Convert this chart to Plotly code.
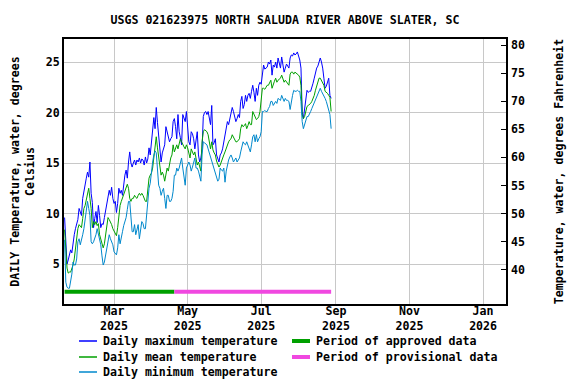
import pandas
import plotly.graph_objects as go

# daily values, degrees Celsius, first day 2025-01-19
first_day = "2025-01-19"

daily_max = [
    9.6, 7.0, 5.0, 5.4, 5.9, 6.4, 6.1, 7.2, 7.9, 8.5,
    8.9, 9.4, 10.5, 10.0, 9.8, 11.5, 12.3, 12.8, 13.5, 14.1,
    13.6, 15.1, 12.0, 11.1, 8.6, 9.5, 10.2, 9.1, 10.8, 9.8,
    8.6, 9.0, 8.9, 9.6, 10.3, 10.9, 11.5, 12.3, 11.8, 12.6,
    11.5, 11.0, 11.2, 10.1, 11.0, 12.5, 12.0, 12.3, 11.8, 13.0,
    13.8, 14.3, 13.5, 15.1, 16.1, 15.0, 14.6, 15.0, 15.3, 14.8,
    15.3, 15.1, 15.5, 15.0, 15.4, 15.3, 14.8, 15.6, 15.0, 15.4,
    16.5, 15.8, 17.1, 17.8, 19.5, 18.4, 20.5, 19.0, 17.5, 16.5,
    15.1, 16.0, 16.4, 16.8, 18.6, 18.1, 17.8, 17.1, 17.4, 17.6,
    19.1, 19.4, 18.6, 17.4, 19.8, 18.1, 17.5, 16.8, 19.8, 19.3,
    19.1, 20.1, 18.0, 17.1, 16.8, 18.1, 17.9, 17.4, 16.4, 17.2,
    18.1, 15.8, 15.1, 15.5, 16.4, 19.6, 20.0, 20.1, 19.8, 20.1,
    19.5, 18.8, 20.7, 16.8, 17.0, 17.4, 15.8, 15.4, 15.1, 15.8,
    16.0, 16.4, 17.1, 18.1, 18.4, 19.1, 18.8, 19.4, 20.0, 20.5,
    20.1, 19.6, 19.1, 19.4, 19.8, 19.5, 21.1, 21.6, 20.4, 20.8,
    21.7, 21.1, 21.7, 21.9, 21.4, 22.1, 22.7, 22.0, 21.1, 22.4,
    21.7, 22.7, 23.0, 22.8, 24.0, 24.7, 24.3, 24.4, 24.5, 25.0,
    24.8, 25.2, 23.7, 24.7, 24.5, 25.0, 24.4, 25.4, 24.9, 24.4,
    25.5, 24.6, 24.0, 24.4, 24.8, 24.6, 24.4, 25.4, 25.7, 25.6,
    25.9, 25.7, 25.8, 26.0, 25.6, 25.2, 24.4, 20.1, 19.4, 20.4,
    21.7, 22.2, 22.0, 22.1, 22.1, 22.4, 22.9, 23.4, 24.0, 24.4,
    24.6, 25.0, 25.4, 25.0, 24.4, 23.4, 22.4, 22.6, 23.0, 23.4,
    21.7, 21.4,
]

daily_mean = [
    8.4, 6.0, 4.6, 4.1, 4.2, 4.2, 4.5, 4.9, 5.5, 6.6,
    7.5, 8.5, 8.9, 8.7, 8.6, 9.5, 10.5, 10.8, 11.5, 12.2,
    12.5, 11.5, 10.5, 8.6, 9.2, 8.9, 9.2, 8.8, 9.0, 7.9,
    7.5, 7.0, 6.6, 7.0, 7.9, 8.6, 9.6, 9.4, 9.2, 8.9,
    8.5, 8.2, 7.9, 7.8, 8.6, 9.8, 10.8, 11.2, 11.5, 11.8,
    12.2, 12.5, 12.9, 12.5, 11.5, 11.2, 11.5, 11.5, 11.8, 11.6,
    11.5, 11.8, 12.0, 11.8, 12.0, 11.8, 11.5, 11.2, 11.2, 12.5,
    13.5, 13.8, 14.0, 14.5, 15.5, 16.8, 17.6, 16.5, 15.5, 14.8,
    13.8, 14.1, 13.8, 13.2, 14.0, 14.5, 14.2, 15.1, 15.5, 15.8,
    16.8, 16.1, 16.6, 16.8, 16.4, 16.9, 17.4, 17.1, 16.8, 16.6,
    16.4, 16.8, 16.5, 16.1, 15.5, 16.4, 16.0, 15.8, 16.1, 15.5,
    14.8, 15.1, 14.6, 14.2, 17.1, 18.1, 18.3, 18.2, 18.1, 17.8,
    17.2, 16.4, 17.1, 16.3, 16.0, 15.8, 15.2, 14.8, 14.6, 14.8,
    15.2, 15.5, 15.8, 16.1, 16.5, 16.8, 17.1, 17.3, 17.4, 17.8,
    17.6, 17.4, 17.1, 17.1, 17.3, 17.4, 18.4, 18.8, 18.6, 18.7,
    18.9, 18.4, 18.7, 19.1, 18.8, 18.8, 20.1, 19.8, 19.4, 19.3,
    19.4, 19.6, 20.1, 21.1, 22.4, 22.4, 22.3, 22.5, 22.7, 22.7,
    22.9, 23.2, 22.4, 22.9, 23.1, 23.4, 23.0, 23.2, 23.3, 23.4,
    23.7, 23.4, 23.0, 23.2, 23.0, 22.9, 22.7, 23.8, 24.0, 24.0,
    23.8, 24.0, 23.9, 23.8, 23.7, 23.5, 22.7, 19.8, 19.4, 19.6,
    20.1, 20.6, 20.7, 20.8, 20.9, 21.1, 21.4, 21.7, 22.2, 22.7,
    23.0, 23.4, 23.4, 23.2, 23.0, 22.7, 22.1, 22.0, 21.9, 21.7,
    21.5, 20.1,
]

daily_min = [
    7.4, 3.2, 2.7, 2.6, 2.6, 3.2, 4.0, 5.2, 4.9, 4.9,
    5.5, 7.2, 7.5, 6.9, 7.3, 7.9, 8.5, 9.5, 10.5, 11.2,
    10.5, 9.8, 7.2, 7.0, 7.2, 7.5, 7.9, 8.5, 8.0, 7.5,
    6.9, 5.8, 4.9, 5.2, 5.9, 6.8, 7.5, 7.9, 7.5, 7.2,
    6.9, 6.2, 6.0, 5.9, 6.6, 7.9, 7.0, 7.8, 8.2, 8.8,
    9.2, 9.6, 10.4, 11.2, 11.2, 9.5, 8.2, 8.2, 8.9, 7.9,
    8.5, 8.9, 7.5, 8.2, 9.2, 9.0, 8.5, 8.5, 9.8, 11.8,
    12.5, 13.0, 14.5, 15.1, 15.8, 16.2, 16.0, 14.5, 12.8, 12.5,
    11.8, 12.2, 12.5, 11.5, 10.5, 11.8, 11.8, 11.2, 11.2, 11.5,
    12.2, 13.8, 13.8, 14.5, 14.2, 14.5, 15.1, 15.5, 14.5, 13.6,
    12.8, 14.5, 14.8, 15.1, 14.8, 14.2, 14.6, 15.1, 15.5, 14.5,
    14.5, 14.2, 13.5, 13.2, 15.8, 17.1, 17.0, 16.9, 16.8, 16.4,
    16.0, 15.5, 15.1, 14.6, 14.2, 13.8, 13.5, 13.2, 13.4, 14.5,
    14.3, 14.2, 14.5, 13.1, 14.2, 14.8, 15.3, 15.6, 15.8, 15.5,
    15.1, 15.3, 15.5, 15.1, 15.3, 15.5, 16.1, 16.8, 17.1, 16.9,
    16.8, 17.1, 16.7, 16.4, 16.1, 16.8, 17.6, 17.8, 17.1, 17.8,
    17.1, 17.4, 17.6, 18.1, 20.1, 20.1, 20.2, 20.1, 20.1, 20.4,
    20.6, 21.1, 21.1, 20.7, 20.9, 21.1, 20.9, 21.4, 21.3, 21.2,
    21.7, 21.4, 21.1, 21.4, 21.2, 21.2, 21.1, 20.3, 21.2, 21.7,
    22.2, 22.1, 22.1, 22.2, 22.1, 22.1, 21.1, 19.1, 18.4, 18.8,
    19.1, 19.6, 19.6, 19.8, 20.1, 20.4, 20.7, 20.9, 21.2, 21.6,
    21.9, 22.1, 22.4, 22.1, 21.9, 21.7, 21.4, 21.1, 20.6, 20.1,
    19.8, 18.4,
]

approved_period = ["2025-01-19", "2025-04-20"]
provisional_period = ["2025-04-20", "2025-08-28"]

x_range = ["2025-01-18 12:00", "2026-01-20"]
celsius_range = [1.04, 27.28]
fahrenheit_ticks = [40, 45, 50, 55, 60, 65, 70, 75, 80]

FONT = dict(family="DejaVu Sans Mono", size=11.6, color="black", weight="bold")

# the page body has an 8px margin, so the figure is drawn 8px smaller
PAGE_PAD = 8
PLOT_L, PLOT_R, PLOT_T, PLOT_B = 64, 506, 39, 304


def to_fahrenheit(c):
    return c * 1.8 + 32


def paper_x(px):
    return (px - PLOT_L) / (PLOT_R - PLOT_L)


def paper_y(py):
    return (PLOT_B - py) / (PLOT_B - PLOT_T)


def legend_entry(fig, x, y, color, width, text):
    fig.add_shape(type="line", xref="paper", yref="paper",
                  x0=paper_x(x), x1=paper_x(x + 18), y0=paper_y(y), y1=paper_y(y),
                  line=dict(color=color, width=width))
    fig.add_annotation(xref="paper", yref="paper", x=paper_x(x + 22), y=paper_y(y),
                       text=text, showarrow=False, xanchor="left", yanchor="middle",
                       font=FONT)


def plot_results():
    days = pandas.date_range(first_day, periods=len(daily_max), freq="D")
    fig = go.Figure()

    fig.add_trace(go.Scatter(x=days, y=daily_max, mode="lines",
                             line=dict(color="#0000ff", width=1)))
    fig.add_trace(go.Scatter(x=days, y=daily_mean, mode="lines",
                             line=dict(color="#00a000", width=1)))
    fig.add_trace(go.Scatter(x=days, y=daily_min, mode="lines",
                             line=dict(color="#0088cc", width=1)))

    # same mean in Fahrenheit, invisible, only so the right hand axis gets drawn
    fig.add_trace(go.Scatter(x=days, y=[to_fahrenheit(v) for v in daily_mean], yaxis="y2",
                             mode="lines", line=dict(color="rgba(0,0,0,0)", width=0),
                             hoverinfo="skip"))

    # approval status bars along the bottom of the plot
    bar_level = 2.25
    fig.add_trace(go.Scatter(x=approved_period, y=[bar_level, bar_level], mode="lines",
                             line=dict(color="#00a000", width=4)))
    fig.add_trace(go.Scatter(x=provisional_period, y=[bar_level, bar_level], mode="lines",
                             line=dict(color="#f048e0", width=4)))

    # legend drawn by hand, plotly's legend rows are too far apart
    legend_entry(fig, 79, 341, "#0000ff", 1.5, "Daily maximum temperature")
    legend_entry(fig, 79, 357, "#00a000", 1.5, "Daily mean temperature")
    legend_entry(fig, 79, 372, "#0088cc", 1.5, "Daily minimum temperature")
    legend_entry(fig, 292, 341, "#00a000", 4, "Period of approved data")
    legend_entry(fig, 292, 357, "#f048e0", 4, "Period of provisional data")

    fig.update_layout(
        width=576 - PAGE_PAD, height=384 - PAGE_PAD,
        margin=dict(l=PLOT_L - PAGE_PAD, r=576 - PLOT_R, t=PLOT_T - PAGE_PAD,
                    b=384 - PLOT_B, autoexpand=False),
        paper_bgcolor="white", plot_bgcolor="white",
        font=FONT,
        showlegend=False,
        title=dict(text="USGS 021623975 NORTH SALUDA RIVER ABOVE SLATER, SC",
                   x=0.5, xref="paper", y=1 - (20 - PAGE_PAD) / (384 - PAGE_PAD),
                   yref="container", xanchor="center", yanchor="middle", font=FONT),
        xaxis=dict(type="date", range=x_range, tick0="2025-03-01", dtick="M2",
                   tickformat="%b<br>%Y", showgrid=True, gridcolor="#c8c8c8", gridwidth=1,
                   showline=True, linecolor="black", linewidth=2, mirror=True,
                   ticks="", zeroline=False, ticklabelstandoff=-5),
        yaxis=dict(range=celsius_range, tick0=5, dtick=5, showgrid=True,
                   gridcolor="#c8c8c8", gridwidth=1, showline=True, linecolor="black",
                   linewidth=2, mirror=True, ticks="", zeroline=False,
                   title=dict(text="DAILY Temperature, water, degrees<br>Celsius",
                              standoff=14, font=FONT)),
        yaxis2=dict(overlaying="y", side="right", anchor="x",
                    range=[to_fahrenheit(celsius_range[0]), to_fahrenheit(celsius_range[1])],
                    tickmode="array", tickvals=fahrenheit_ticks,
                    showgrid=False, zeroline=False,
                    ticks="inside", ticklen=5, tickcolor="black", tickwidth=1,
                    ticklabelstandoff=4,
                    title=dict(text="Temperature, water, degrees Fahrenheit",
                               standoff=30, font=FONT)),
    )
    fig.write_html("out.html")


if __name__ == "__main__":
    plot_results()
